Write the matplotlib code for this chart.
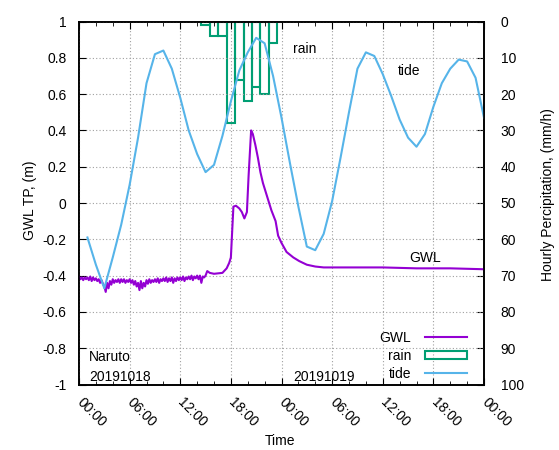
import numpy as np
import matplotlib
matplotlib.use("Agg")
import matplotlib.pyplot as plt
from matplotlib.lines import Line2D
from matplotlib.patches import Rectangle

plt.rcParams['font.family'] = ['Liberation Sans', 'DejaVu Sans']
plt.rcParams['font.size'] = 10

# tide level (m), hourly from 01:00 on 2019-10-18
tide_hours = list(range(1, 49))
tide_m = [-0.19, -0.34, -0.47, -0.30, -0.12, 0.10, 0.36, 0.66, 0.82, 0.84,
          0.74, 0.58, 0.40, 0.27, 0.17, 0.21, 0.37, 0.56, 0.73, 0.83,
          0.91, 0.88, 0.70, 0.47, 0.22, -0.02, -0.24, -0.26, -0.17, 0.01,
          0.25, 0.50, 0.74, 0.83, 0.81, 0.71, 0.59, 0.46, 0.36, 0.31,
          0.38, 0.53, 0.66, 0.74, 0.79, 0.78, 0.69, 0.47]

# hourly rain (mm/h)
rain_hours = [15, 16, 17, 18, 19, 20, 21, 22, 23]
rain_mm = [1, 4, 4, 28, 16, 22, 18, 20, 6]

# groundwater level (m): noisy part sampled every 10 min from 00:00 to 15:00
gwl_noisy = [-0.405, -0.42, -0.41, -0.425, -0.41, -0.42,
             -0.41, -0.425, -0.405, -0.43, -0.41, -0.425,
             -0.415, -0.43, -0.42, -0.44, -0.425, -0.445,
             -0.46, -0.49, -0.44, -0.47, -0.43, -0.45,
             -0.42, -0.44, -0.425, -0.435, -0.42, -0.44,
             -0.42, -0.435, -0.42, -0.44, -0.425, -0.435,
             -0.42, -0.44, -0.425, -0.45, -0.43, -0.46,
             -0.44, -0.48, -0.43, -0.47, -0.44, -0.46,
             -0.425, -0.445, -0.42, -0.44, -0.425, -0.435,
             -0.42, -0.435, -0.415, -0.44, -0.42, -0.43,
             -0.415, -0.43, -0.41, -0.435, -0.415, -0.43,
             -0.41, -0.44, -0.415, -0.43, -0.41, -0.425,
             -0.41, -0.425, -0.405, -0.43, -0.41, -0.42,
             -0.405, -0.42, -0.40, -0.425, -0.405, -0.415,
             -0.40, -0.42, -0.40, -0.44, -0.405, -0.41]
gwl_hours_rest = [15.0, 15.2, 15.5, 16.0, 17.0, 17.5, 17.8, 18.0, 18.3, 18.6,
                  19.0, 19.3, 19.6, 19.9, 20.1, 20.4, 20.6, 20.9, 21.2, 21.5,
                  21.8, 22.2, 22.8, 23.3, 23.6, 24.0, 24.6, 25.4, 26.1, 27.0,
                  28.0, 29.0, 32.0, 36.0, 40.0, 44.0, 48.0]
gwl_rest = [-0.40, -0.375, -0.385, -0.39, -0.385, -0.36, -0.33, -0.30, -0.02, -0.015,
            -0.03, -0.05, -0.085, -0.05, 0.15, 0.40, 0.38, 0.32, 0.25, 0.17,
            0.11, 0.05, -0.04, -0.10, -0.18, -0.22, -0.27, -0.30, -0.32, -0.34,
            -0.35, -0.355, -0.355, -0.355, -0.36, -0.36, -0.365]

xtick_hours = [0, 6, 12, 18, 24, 30, 36, 42, 48]
xtick_labels = ['00:00', '06:00', '12:00', '18:00', '00:00', '06:00', '12:00', '18:00', '00:00']

c_gwl = '#9400d3'
c_rain = '#009e73'
c_tide = '#56b4e9'

gwl_t = list(np.arange(len(gwl_noisy)) / 6.0) + gwl_hours_rest
gwl_v = gwl_noisy + gwl_rest

fig = plt.figure(figsize=(5.59, 4.5), dpi=100)
ax = fig.add_axes([79 / 559, 1 - 384.5 / 450, 405 / 559, 363 / 450])
ax2 = ax.twinx()

# rain drawn underneath the lines
ax.set_zorder(ax2.get_zorder() + 1)
ax.patch.set_visible(False)

ax2.bar(rain_hours, rain_mm, width=1.0, bottom=0, facecolor='none',
        edgecolor=c_rain, linewidth=1.5)
ax2.set_ylim(100, 0)
ax2.set_yticks(range(0, 101, 10))

ax.plot(gwl_t, gwl_v, color=c_gwl, lw=1.5)
ax.plot(tide_hours, tide_m, color=c_tide, lw=1.5)

ax.set_xlim(0, 48)
ax.set_ylim(-1, 1)
ax.set_yticks(np.arange(-1, 1.01, 0.2))
ax.set_yticklabels(['-1', '-0.8', '-0.6', '-0.4', '-0.2', '0', '0.2', '0.4', '0.6', '0.8', '1'])
ax.set_xticks(xtick_hours)
ax.set_xticks(range(0, 49, 2), minor=True)
ax.set_xticklabels(xtick_labels, rotation=-45, ha='left', va='center',
                   rotation_mode='anchor')

ax.tick_params(axis='x', which='both', direction='in', top=True)
ax.tick_params(axis='x', which='major', length=5, pad=11)
ax.tick_params(axis='x', which='minor', length=3)
ax.tick_params(axis='y', direction='in', length=5, pad=9, right=False)
ax2.tick_params(axis='y', direction='in', length=5, pad=12)

ax.grid(True, which='major', color='#a0a0a0', linestyle=(0, (1, 2)), linewidth=0.8)
for a in (ax, ax2):
    for s in a.spines.values():
        s.set_linewidth(1.2)

fig.text(305 / 559, 1 - 49 / 450, 'rain', ha='center', va='center')
fig.text(409 / 559, 1 - 71 / 450, 'tide', ha='center', va='center')
fig.text(425 / 559, 1 - 258 / 450, 'GWL', ha='center', va='center')
fig.text(89 / 559, 1 - 357 / 450, 'Naruto', ha='left', va='center')
fig.text(89 / 559, 1 - 377 / 450, '20191018', ha='left', va='center')
fig.text(293 / 559, 1 - 377 / 450, '20191019', ha='left', va='center')

fig.text(30 / 559, 1 - 200 / 450, 'GWL TP, (m)', rotation=90, ha='center', va='center')
fig.text(548 / 559, 1 - 195 / 450, 'Hourly Percipitation, (mm/h)', rotation=90,
         ha='center', va='center')
fig.text(280 / 559, 1 - 441 / 450, 'Time', ha='center', va='center')

handles = [Line2D([], [], color=c_gwl, lw=1.5),
           Rectangle((0, 0), 1, 1, facecolor='none', edgecolor=c_rain, lw=1.5),
           Line2D([], [], color=c_tide, lw=1.5)]
ax.legend(handles, ['GWL', 'rain', 'tide'], loc='lower right',
          bbox_to_anchor=(0.958, 0.01), frameon=False, markerfirst=False,
          handlelength=3, handleheight=0.55, handletextpad=1.0, labelspacing=0.3,
          borderpad=0, borderaxespad=0)

fig.savefig('out.png', dpi=100)
